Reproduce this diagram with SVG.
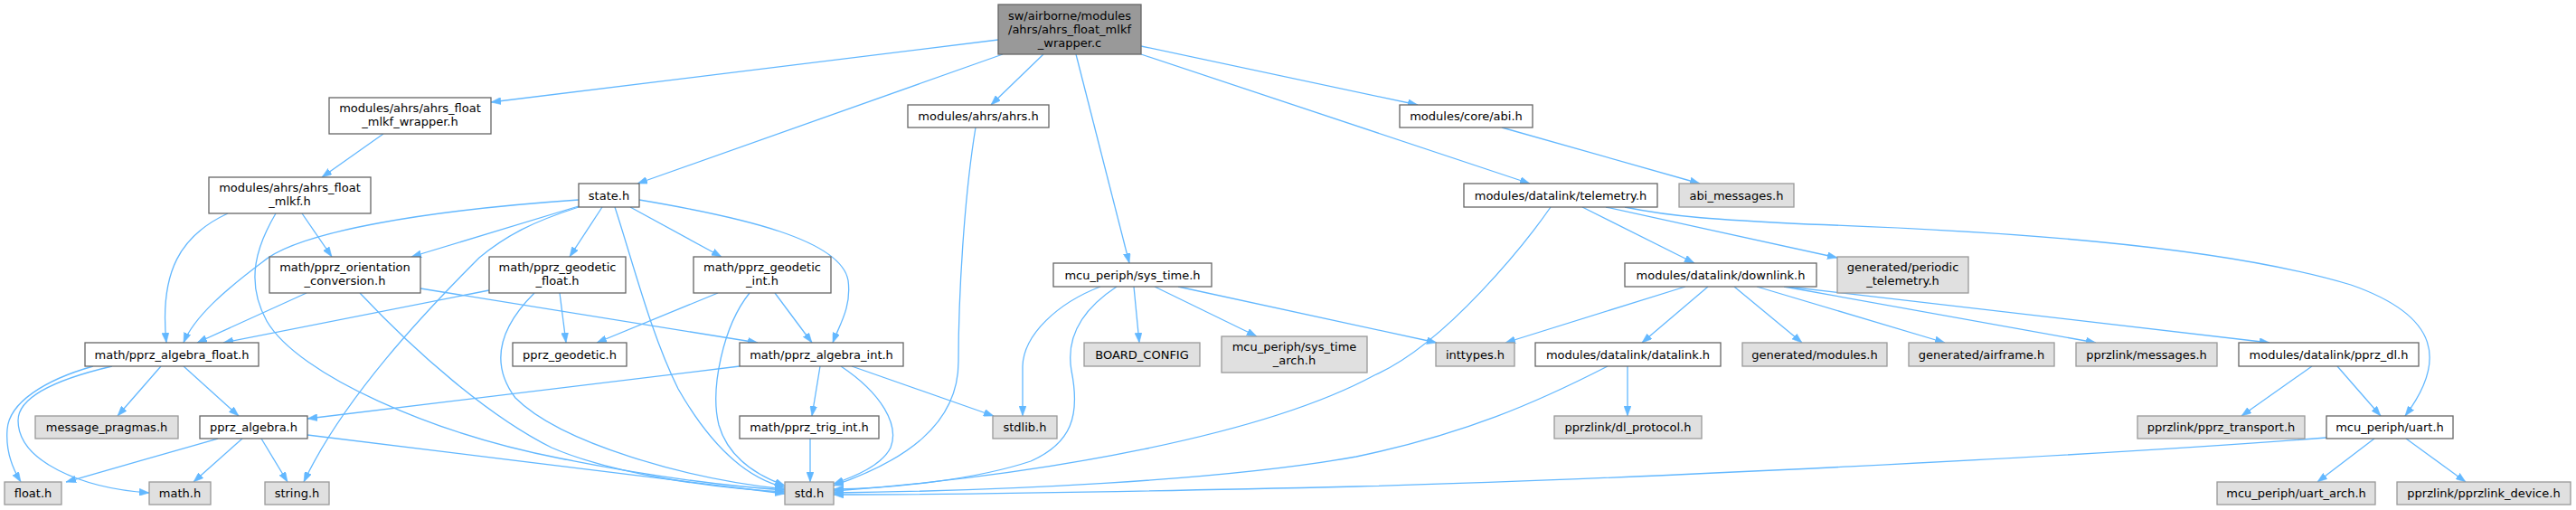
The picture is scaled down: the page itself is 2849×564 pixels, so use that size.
<svg xmlns="http://www.w3.org/2000/svg" width="2849" height="564" viewBox="0 0 2849 564">
<style>
text{font-family:"DejaVu Sans","Liberation Sans",sans-serif;font-size:13px;fill:#000;text-anchor:middle}
.n rect{fill:#fff;stroke:#666;stroke-width:1.3}
.g rect{fill:#e0e0e0;stroke:#999;stroke-width:1.3}
.m rect{fill:#999;stroke:#666;stroke-width:1.3}
#edges path{fill:none;stroke:#63b8ff;stroke-width:1.3;marker-end:url(#ah)}
</style>
<defs>
<marker id="ah" markerUnits="userSpaceOnUse" markerWidth="11" markerHeight="8" refX="11" refY="4" orient="auto">
<path d="M0,0 L11,4 L0,8 z" fill="#63b8ff" stroke="#63b8ff" stroke-width="0.5"/>
</marker>
</defs>
<rect width="2849" height="564" fill="#fff"/>
<g id="edges">
<path d="M1104,44 L543,113"/>
<path d="M1109,60 L705,203"/>
<path d="M1154,60 L1096,116"/>
<path d="M1190,60 L1249,291"/>
<path d="M1262,60 L1692,203"/>
<path d="M1262,51 L1568,116"/>
<path d="M424,148 L356,196"/>
<path d="M252,236 C200,260 176,300 184,379"/>
<path d="M334,236 L367,284"/>
<path d="M305,236 C285,270 270,310 295,355 C330,415 480,480 620,507 C720,527 810,538 868,542"/>
<path d="M640,221 C480,232 330,255 290,290 C250,320 215,350 203,379"/>
<path d="M640,228 L455,284"/>
<path d="M640,229 C590,245 560,260 530,285 C470,345 380,440 336,533"/>
<path d="M666,229 L630,284"/>
<path d="M680,229 C700,290 720,370 750,430 C790,500 830,530 868,539"/>
<path d="M697,229 L798,284"/>
<path d="M707,221 C820,240 930,265 938,310 C942,340 928,360 921,379"/>
<path d="M339,324 L218,379"/>
<path d="M398,324 C460,390 540,460 610,495 C680,525 790,540 868,544"/>
<path d="M465,319 L838,379"/>
<path d="M541,321 L247,379"/>
<path d="M619,324 L626,379"/>
<path d="M591,324 C555,360 540,400 570,440 C620,490 760,530 868,541"/>
<path d="M794,324 L660,379"/>
<path d="M857,324 L898,379"/>
<path d="M829,324 C800,360 785,430 795,470 C805,505 835,525 868,537"/>
<path d="M178,405 L130,460"/>
<path d="M203,405 L264,460"/>
<path d="M103,405 C50,420 10,445 8,475 C6,500 15,520 23,533"/>
<path d="M124,405 C60,420 20,440 20,465 C20,510 90,540 165,545"/>
<path d="M241,485 L73,533"/>
<path d="M268,485 L214,533"/>
<path d="M289,485 L318,533"/>
<path d="M340,481 L868,546"/>
<path d="M818,405 L340,463"/>
<path d="M907,405 L898,460"/>
<path d="M930,405 C975,435 995,470 985,495 C975,515 945,527 922,535"/>
<path d="M942,405 L1099,460"/>
<path d="M896,485 L896,533"/>
<path d="M1079,141 C1066,220 1060,330 1060,400 C1060,470 1000,510 922,537"/>
<path d="M1217,317 C1170,335 1132,370 1131,405 L1131,460"/>
<path d="M1235,317 C1200,340 1178,370 1185,410 C1195,460 1185,490 1140,510 C1080,530 990,540 922,541"/>
<path d="M1254,317 L1260,379"/>
<path d="M1277,317 L1390,372"/>
<path d="M1303,317 L1589,379"/>
<path d="M1715,229 C1690,265 1600,380 1520,415 C1400,480 1160,525 922,543"/>
<path d="M1750,229 L1874,291"/>
<path d="M1776,229 L2032,285"/>
<path d="M1797,229 C1850,240 1900,243 2000,248 C2200,255 2450,270 2600,315 C2700,350 2705,400 2660,460"/>
<path d="M1661,141 L1880,203"/>
<path d="M1864,317 L1665,379"/>
<path d="M1889,317 L1816,379"/>
<path d="M1918,317 L1993,379"/>
<path d="M1943,317 L2151,379"/>
<path d="M1973,317 L2318,379"/>
<path d="M1977,317 L2510,379"/>
<path d="M1800,405 L1800,460"/>
<path d="M1778,405 C1700,445 1620,480 1500,505 C1350,532 1100,543 922,545"/>
<path d="M2557,405 L2479,460"/>
<path d="M2585,405 L2633,460"/>
<path d="M2573,484 C2300,505 1800,530 1500,538 C1200,545 1000,547 922,547"/>
<path d="M2626,485 L2563,533"/>
<path d="M2661,485 L2727,533"/>
</g>
<g id="main" class="m"><rect x="1104" y="5" width="158" height="55"/><text x="1183" y="21.5">sw/airborne/modules</text><text x="1183" y="36.5">/ahrs/ahrs_float_mlkf</text><text x="1183" y="51.5">_wrapper.c</text></g>
<g id="wrapper_h" class="n"><rect x="364" y="108" width="179" height="40"/><text x="453.5" y="123.5">modules/ahrs/ahrs_float</text><text x="453.5" y="138.5">_mlkf_wrapper.h</text></g>
<g id="ahrs_h" class="n"><rect x="1004" y="116" width="156" height="25"/><text x="1082" y="133">modules/ahrs/ahrs.h</text></g>
<g id="abi_h" class="n"><rect x="1548" y="116" width="147" height="25"/><text x="1621.5" y="133">modules/core/abi.h</text></g>
<g id="mlkf_h" class="n"><rect x="231" y="196" width="179" height="40"/><text x="320.5" y="211.5">modules/ahrs/ahrs_float</text><text x="320.5" y="226.5">_mlkf.h</text></g>
<g id="state_h" class="n"><rect x="640" y="203" width="67" height="26"/><text x="673.5" y="220.5">state.h</text></g>
<g id="telemetry_h" class="n"><rect x="1619" y="203" width="214" height="26"/><text x="1726" y="220.5">modules/datalink/telemetry.h</text></g>
<g id="abi_messages_h" class="g"><rect x="1857" y="203" width="127" height="26"/><text x="1920.5" y="220.5">abi_messages.h</text></g>
<g id="orientation_h" class="n"><rect x="298" y="284" width="167" height="40"/><text x="381.5" y="299.5">math/pprz_orientation</text><text x="381.5" y="314.5">_conversion.h</text></g>
<g id="geodetic_float_h" class="n"><rect x="541" y="284" width="151" height="40"/><text x="616.5" y="299.5">math/pprz_geodetic</text><text x="616.5" y="314.5">_float.h</text></g>
<g id="geodetic_int_h" class="n"><rect x="767" y="284" width="152" height="40"/><text x="843" y="299.5">math/pprz_geodetic</text><text x="843" y="314.5">_int.h</text></g>
<g id="sys_time_h" class="n"><rect x="1165" y="291" width="175" height="26"/><text x="1252.5" y="308.5">mcu_periph/sys_time.h</text></g>
<g id="downlink_h" class="n"><rect x="1797" y="291" width="212" height="26"/><text x="1903" y="308.5">modules/datalink/downlink.h</text></g>
<g id="periodic_telemetry_h" class="g"><rect x="2032" y="284" width="145" height="40"/><text x="2104.5" y="299.5">generated/periodic</text><text x="2104.5" y="314.5">_telemetry.h</text></g>
<g id="algebra_float_h" class="n"><rect x="94" y="379" width="192" height="26"/><text x="190" y="396.5">math/pprz_algebra_float.h</text></g>
<g id="geodetic_h" class="n"><rect x="567" y="379" width="126" height="26"/><text x="630" y="396.5">pprz_geodetic.h</text></g>
<g id="algebra_int_h" class="n"><rect x="818" y="379" width="181" height="26"/><text x="908.5" y="396.5">math/pprz_algebra_int.h</text></g>
<g id="board_config" class="g"><rect x="1199" y="379" width="128" height="26"/><text x="1263" y="396.5">BOARD_CONFIG</text></g>
<g id="sys_time_arch_h" class="g"><rect x="1351" y="372" width="161" height="40"/><text x="1431.5" y="387.5">mcu_periph/sys_time</text><text x="1431.5" y="402.5">_arch.h</text></g>
<g id="inttypes_h" class="g"><rect x="1588" y="379" width="87" height="26"/><text x="1631.5" y="396.5">inttypes.h</text></g>
<g id="datalink_h" class="n"><rect x="1698" y="379" width="205" height="26"/><text x="1800.5" y="396.5">modules/datalink/datalink.h</text></g>
<g id="modules_h" class="g"><rect x="1927" y="379" width="160" height="26"/><text x="2007" y="396.5">generated/modules.h</text></g>
<g id="airframe_h" class="g"><rect x="2111" y="379" width="161" height="26"/><text x="2191.5" y="396.5">generated/airframe.h</text></g>
<g id="messages_h" class="g"><rect x="2296" y="379" width="156" height="26"/><text x="2374" y="396.5">pprzlink/messages.h</text></g>
<g id="pprz_dl_h" class="n"><rect x="2476" y="379" width="199" height="26"/><text x="2575.5" y="396.5">modules/datalink/pprz_dl.h</text></g>
<g id="message_pragmas_h" class="g"><rect x="39" y="460" width="158" height="25"/><text x="118" y="477">message_pragmas.h</text></g>
<g id="pprz_algebra_h" class="n"><rect x="221" y="460" width="119" height="25"/><text x="280.5" y="477">pprz_algebra.h</text></g>
<g id="trig_int_h" class="n"><rect x="818" y="460" width="154" height="25"/><text x="895" y="477">math/pprz_trig_int.h</text></g>
<g id="stdlib_h" class="g"><rect x="1098" y="460" width="71" height="25"/><text x="1133.5" y="477">stdlib.h</text></g>
<g id="dl_protocol_h" class="g"><rect x="1719" y="460" width="163" height="25"/><text x="1800.5" y="477">pprzlink/dl_protocol.h</text></g>
<g id="pprz_transport_h" class="g"><rect x="2364" y="460" width="185" height="25"/><text x="2456.5" y="477">pprzlink/pprz_transport.h</text></g>
<g id="uart_h" class="n"><rect x="2573" y="460" width="140" height="25"/><text x="2643" y="477">mcu_periph/uart.h</text></g>
<g id="float_h" class="g"><rect x="5" y="533" width="63" height="25"/><text x="36.5" y="550">float.h</text></g>
<g id="math_h" class="g"><rect x="165" y="533" width="68" height="25"/><text x="199" y="550">math.h</text></g>
<g id="string_h" class="g"><rect x="293" y="533" width="71" height="25"/><text x="328.5" y="550">string.h</text></g>
<g id="std_h" class="g"><rect x="868" y="533" width="54" height="25"/><text x="895" y="550">std.h</text></g>
<g id="uart_arch_h" class="g"><rect x="2452" y="533" width="175" height="25"/><text x="2539.5" y="550">mcu_periph/uart_arch.h</text></g>
<g id="pprzlink_device_h" class="g"><rect x="2651" y="533" width="192" height="25"/><text x="2747" y="550">pprzlink/pprzlink_device.h</text></g>
</svg>
